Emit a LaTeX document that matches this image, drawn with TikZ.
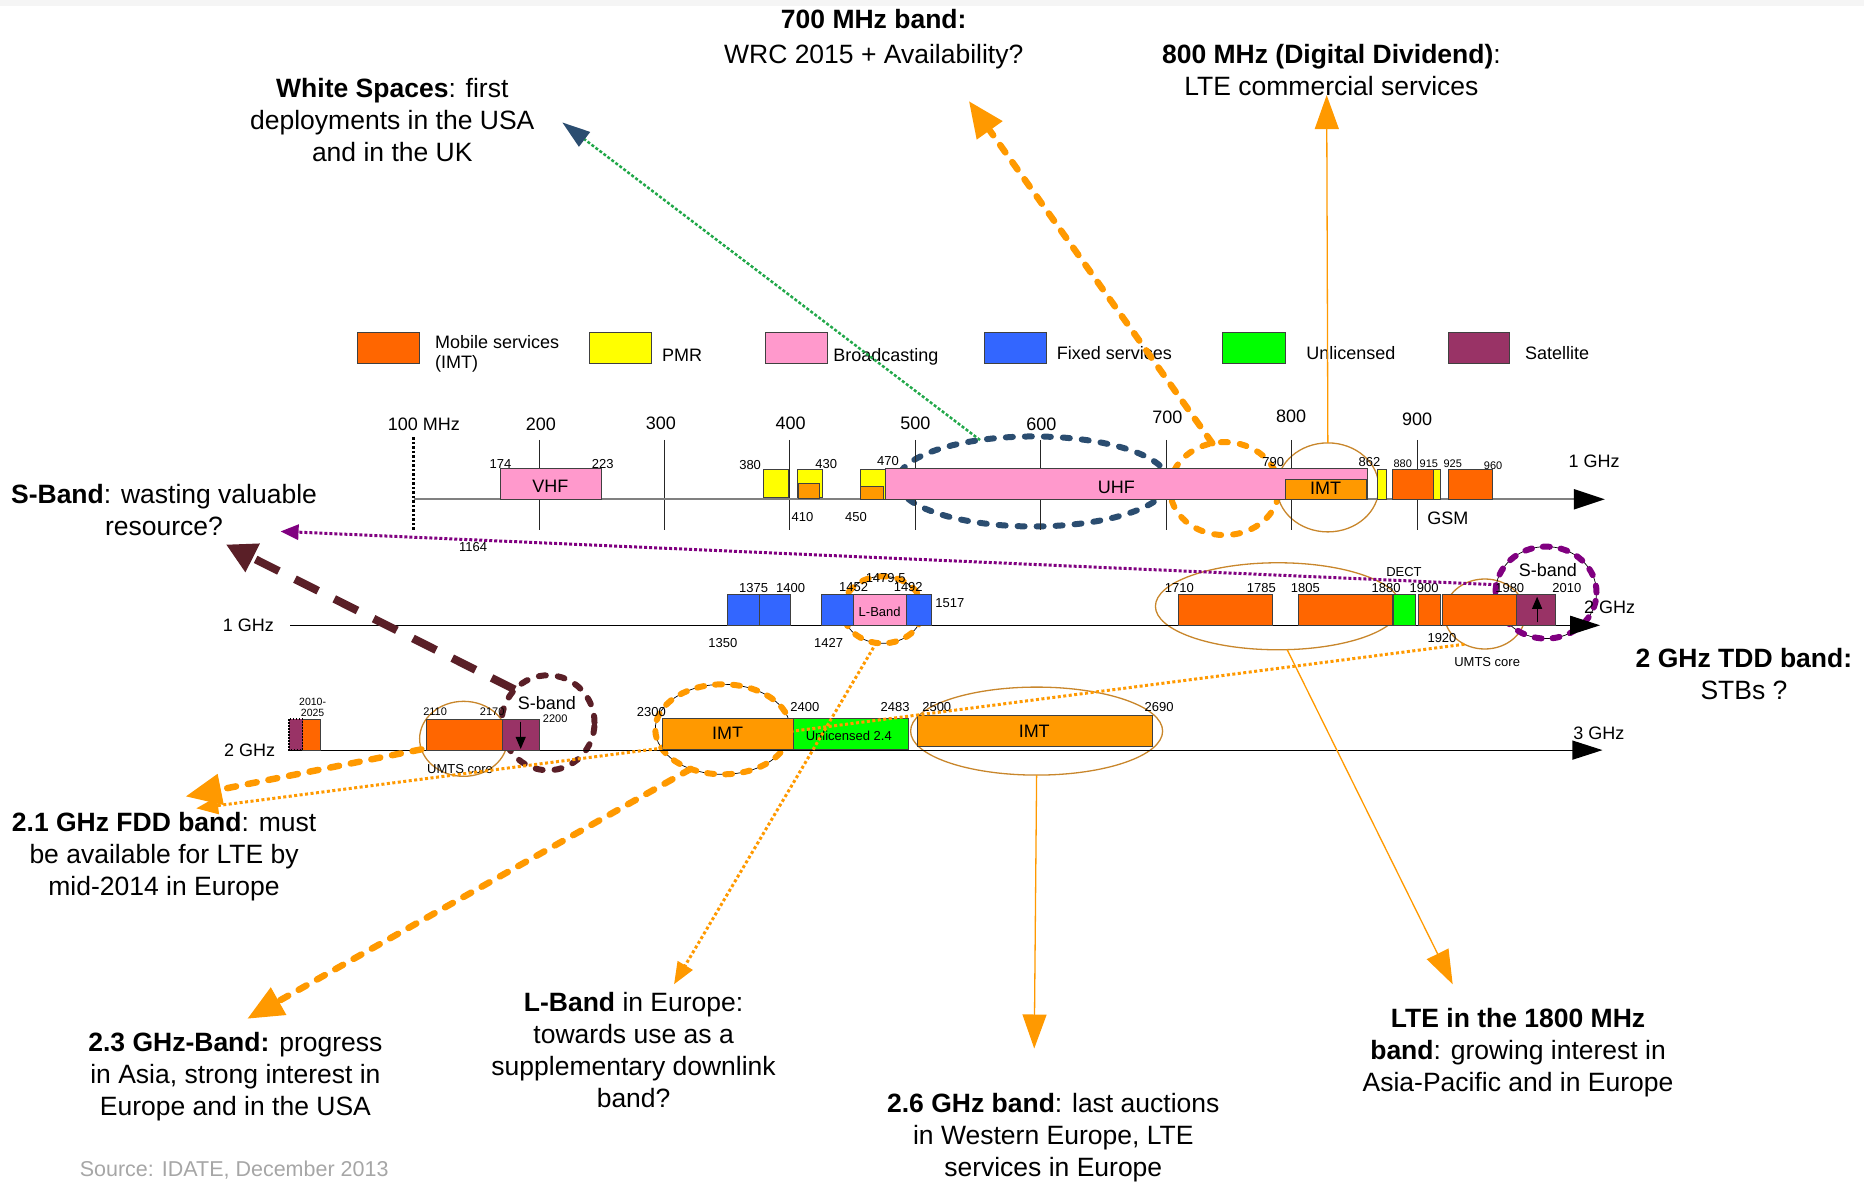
\documentclass[tikz,border=0pt]{standalone}
\usepackage{fontspec}
\setmainfont{Liberation Sans}
\usetikzlibrary{arrows.meta,shapes.geometric}

\definecolor{mobile}{HTML}{FF6600}
\definecolor{imt}{HTML}{FF9900}
\definecolor{pmr}{HTML}{FFFF00}
\definecolor{bcast}{HTML}{FF99CC}
\definecolor{fixed}{HTML}{3366FF}
\definecolor{unlic}{HTML}{00FF00}
\definecolor{sat}{HTML}{993366}
\definecolor{navy}{HTML}{2B4D70}
\definecolor{ring}{HTML}{C8862B}
\definecolor{wine}{HTML}{5A1F27}
\definecolor{plum}{HTML}{800080}
\definecolor{wsgreen}{HTML}{22A84A}

\begin{document}
\begin{tikzpicture}
  [x=1.18878pt,y=-1.18878pt,
   every node/.style={inner sep=0pt,outer sep=0pt},
   lbl/.style={font=\fontsize{26.5}{32}\selectfont,align=center,anchor=north},
   axl/.style={font=\fontsize{18}{20}\selectfont},
   num/.style={font=\fontsize{13}{14}\selectfont},
   sml/.style={font=\fontsize{11}{11}\selectfont},
   lgd/.style={font=\fontsize{18}{20}\selectfont,align=left,anchor=west},
   box/.style={draw=black!75,line width=.8pt},
   thinring/.style={ellipse,draw=ring,line width=1.3pt},
   dashring/.style={ellipse,draw=#1,line width=6pt,dash pattern=on 7pt off 12pt,line cap=round},
   lightring/.style={ellipse,draw=black,line width=.7pt,postaction={draw=#1,line width=6pt,dash pattern=on 7pt off 11pt,line cap=round}},
   orgdash/.style={draw=imt,line width=6.5pt,dash pattern=on 9pt off 12pt,line cap=round,-{Triangle[length=36pt,width=30pt]}},
   orgthin/.style={draw=imt,line width=1.3pt,-{Triangle[length=34pt,width=24pt]}},
   orgdot/.style={draw=imt,line width=3pt,dash pattern=on 3pt off 2.5pt,-{Triangle[length=22pt,width=17pt]}},
   plumdot/.style={draw=plum,line width=3pt,dash pattern=on 3pt off 2pt,-{Triangle[length=18pt,width=15pt]}},
   winedash/.style={draw=wine,line width=8pt,dash pattern=on 26pt off 18pt,-{Triangle[length=30pt,width=30pt]}},
   wsline/.style={draw=wsgreen,line width=2.5pt,dash pattern=on 3pt off 2pt,-{Triangle[length=28pt,width=18pt,color=navy]}}]

  \useasboundingbox (0,0) rectangle (1568,994);
  \fill[black!4] (0,0) rectangle (1568,5);

  % rings round the bands
  \node[dashring=navy,minimum width=271pt,minimum height=90pt] (eblue) at (869,405) {};
  \node[dashring=imt,minimum width=109pt,minimum height=93pt] (e700) at (1030,411) {};
  \node[thinring,minimum width=102pt,minimum height=89pt] (e800) at (1117,410) {};
  \node[lightring=imt,minimum width=80pt,minimum height=67pt] (elb) at (742.5,513) {};
  \node[thinring,minimum width=245pt,minimum height=87pt] (e18) at (1075,510) {};
  \node[thinring,minimum width=81pt,minimum height=70pt] (eumts1) at (1249,516.5) {};
  \node[lightring=plum,minimum width=101pt,minimum height=92pt] (esb1) at (1300.5,498.5) {};
  \node[thinring,minimum width=88pt,minimum height=75pt] (eumts2) at (390,621.5) {};
  \node[dashring=wine,minimum width=93pt,minimum height=95pt] (esb2) at (461,608) {};
  \node[lightring=imt,minimum width=135pt,minimum height=90pt] (e23) at (608,613.5) {};
  \node[thinring,minimum width=252pt,minimum height=88pt] (e26) at (872,615) {};

  % scales
  \foreach \x in {453.5,559,664.5,770,875.5,981,1086.5,1192}
    \draw[black!85,line width=1pt] (\x,370) -- (\x,446);
  \draw[line width=2.5pt,dash pattern=on 2.5pt off 2pt] (348,368) -- (348,447);
  \coordinate (a1s) at (348,420);  \coordinate (a1e) at (1350,420);
  \coordinate (a2s) at (244,526);  \coordinate (a2e) at (1346,526);
  \coordinate (a3s) at (243,631);  \coordinate (a3e) at (1348,631);
  \draw[draw=black!50,line width=2pt,-{Triangle[length=31pt,width=20pt,color=black]}] (a1s) -- (a1e);
  \draw[line width=1.2pt,-{Triangle[length=30pt,width=19pt]}] (a2s) -- (a2e);
  \draw[line width=1.2pt,-{Triangle[length=30pt,width=19pt]}] (a3s) -- (a3e);

  % bands
  \foreach \xa/\ya/\xb/\yb/\c in {
      421/394/506/420/bcast, 642.5/395/663.5/418/pmr, 670.5/394.5/691.5/418/pmr,
      671.5/407/689.5/419/imt, 723.5/394.5/744.5/420/pmr, 723.5/409/743/420/imt,
      744.5/394/1150/420/bcast, 1081/403/1149/420/imt, 1159/394.5/1166/420/pmr,
      1171/394.5/1206/420/mobile, 1206/394.5/1212/420/pmr, 1218/394.5/1255/420/mobile,
      611.5/500/638.5/526/fixed, 638.5/500/665/526/fixed, 691/500/718/526/fixed,
      718/500/762.5/526/bcast, 762.5/500/783.5/526/fixed, 991.5/500/1070.5/526/mobile,
      1092/500/1171/526/mobile, 1172.5/500/1190.5/526/unlic, 1193.5/500/1212/526/mobile,
      1213/500/1276/526/mobile, 1276/500/1308/526/sat,
      254.6/605/269.6/631/mobile, 359/605/422.5/631/mobile, 422.5/605/454/631/sat,
      557/604/667/630/imt, 667/604/764/630/unlic, 772/602/969/628/imt,
      301/280/353/306/mobile, 496/280/548/306/pmr, 644/280/696/306/bcast,
      828/280/880/306/fixed, 1028/280/1081/306/unlic, 1218/280/1270/306/sat}
    \draw[box,fill=\c] (\xa,\ya) rectangle (\xb,\yb);
  \draw[fill=sat,line width=1.5pt,dash pattern=on 1.5pt off 1.5pt] (243,605) rectangle (254.6,631);
  \draw[line width=1pt,-{Triangle[length=12pt,width=10pt]}] (1293,523.5) -- (1293,502);
  \draw[line width=1pt,-{Triangle[length=12pt,width=10pt]}] (438,607) -- (438,630);

  % legend
  \node[lgd] (lmob) at (366,297.5) {Mobile services\\(IMT)};
  \node[lgd] (lpmr) at (557,299) {PMR};
  \node[lgd] (lbc) at (701,300) {Broadcasting};
  \node[lgd] (lfix) at (889,297) {Fixed services};
  \node[lgd] (lunl) at (1099,297) {Unlicensed};
  \node[lgd] (lsat) at (1283,297) {Satellite};

  % scale labels
  \node[axl] (m100) at (356.5,357) {100 MHz};
  \foreach \t/\x/\y in {200/455/357, 300/556/356, 400/665/356, 500/770/356,
      600/876/357, 700/982/351, 800/1086/350, 900/1192/353}
    \node[axl] (m\t) at (\x,\y) {\t};
  \node[axl] (g1) at (1341,388) {1 GHz};
  \node[axl] (g1b) at (209,526) {1 GHz};
  \node[axl] (g2) at (1354,511) {2 GHz};
  \node[axl] (g2b) at (210,631) {2 GHz};
  \node[axl] (g3) at (1345,617) {3 GHz};

  % band names
  \node[axl] (vhf) at (463,409) {VHF};
  \node[axl] (uhf) at (939,410) {UHF};
  \node[axl] (imt8) at (1115,411) {IMT};
  \node[axl] (gsm) at (1218,436) {GSM};
  \node[num] (lband) at (740,515) {L-Band};
  \node[num] (dect) at (1181,481) {DECT};
  \node[axl] (sb1) at (1302,479.5) {S-band};
  \node[num] (umts1) at (1251,557) {UMTS core};
  \node[axl] (sb2) at (460,591) {S-band};
  \node[num] (umts2) at (387,647) {UMTS core};
  \node[axl] (imt23) at (612,617) {IMT};
  \node[num] (unl) at (714,619) {Unlicensed 2.4};
  \node[axl] (imt26) at (870,615) {IMT};
  \node[sml,align=center,font=\fontsize{10.5}{11}\selectfont] (f2010) at (263,595) {2010-\\2025};

  % frequencies
  \foreach \t/\x/\y in {174/421/390, 223/507/390, 380/631/391, 430/695/390, 470/747/388,
      410/675/435, 450/720/435, 790/1071/389, 862/1152/389, 1164/398/460,
      1375/634/495, 1400/665/495, 1350/608/541, 1452/718/494, 1492/764/494,
      1517/799/507, 1427/697/541, 1710/992/495, 1785/1061/495, 1805/1098/495,
      1880/1166/495, 1900/1198/495, 1980/1270/495, 2010/1318/495, 1920/1213/537,
      2300/548/599, 2400/677/595, 2483/753/595, 2500/788/595, 2690/975/595}
    \node[num] (f\t) at (\x,\y) {\t};
  \foreach \t/\x/\y in {880/1180/390, 915/1202/390, 925/1222/390, 960/1256/392,
      2110/366/599, 2170/414/599, 2200/467/605}
    \node[sml] (f\t) at (\x,\y) {\t};
  \node[num] (f1479) at (745,487) {1479,5};

  % comments
  \node[lbl,font=\fontsize{26.5}{34.5}\selectfont] (n700) at (735,8) {\textbf{700 MHz band:}\\WRC 2015 + Availability?};
  \node[lbl] (n800) at (1120,37) {\textbf{800 MHz (Digital Dividend)}:\\LTE commercial services};
  \node[lbl] (nws) at (330,66) {\textbf{White Spaces}: first\\deployments in the USA\\and in the UK};
  \node[lbl] (nsb) at (138,407) {\textbf{S-Band}: wasting valuable\\resource?};
  \node[lbl] (ntdd) at (1467,545) {\textbf{2 GHz TDD band:}\\STBs ?};
  \node[lbl] (nfdd) at (138,683) {\textbf{2.1 GHz FDD band}: must\\be available for LTE by\\mid-2014 in Europe};
  \node[lbl] (n23) at (198,868) {\textbf{2.3 GHz-Band:} progress\\in Asia, strong interest in\\Europe and in the USA};
  \node[lbl] (nlb) at (533,835) {\textbf{L-Band} in Europe:\\towards use as a\\supplementary downlink\\band?};
  \node[lbl] (n26) at (886,920) {\textbf{2.6 GHz band}: last auctions\\in Western Europe, LTE\\services in Europe};
  \node[lbl] (n18) at (1277,848) {\textbf{LTE in the 1800 MHz}\\\textbf{band}: growing interest in\\Asia-Pacific and in Europe};
  \node[font=\fontsize{21.5}{24}\selectfont,text=black!35] (src) at (197,984) {Source: IDATE, December 2013};

  % arrow tips
  \coordinate (tipws) at (473,103);
  \coordinate (tip700) at (815,85);
  \coordinate (tip800) at (1116,80);
  \coordinate (tipsb1) at (236,447);
  \coordinate (tipsb2) at (190,458);
  \coordinate (tipfdd1) at (156,670);
  \coordinate (tipfdd2) at (165,680);
  \coordinate (tip23) at (208,857);
  \coordinate (tiplb) at (567,828);
  \coordinate (tip26) at (870,882);
  \coordinate (tip18) at (1222,828);

  \draw[wsline] (eblue.142) -- (tipws);
  \draw[plumdot] (esb1.171) -- (tipsb1);
  \draw[winedash] (esb2.135) -- (tipsb2);
  \foreach \from/\to in {e700.105/tip700, eumts2.194/tipfdd1, e23.231/tip23}
    \draw[orgdash] (\from) -- (\to);
  \foreach \from/\to in {eumts1.236/tipfdd2, elb.259/tiplb}
    \draw[orgdot] (\from) -- (\to);
  \foreach \from/\to in {e800.north/tip800, e26.south/tip26, e18.282/tip18}
    \draw[orgthin] (\from) -- (\to);
\end{tikzpicture}
\end{document}
